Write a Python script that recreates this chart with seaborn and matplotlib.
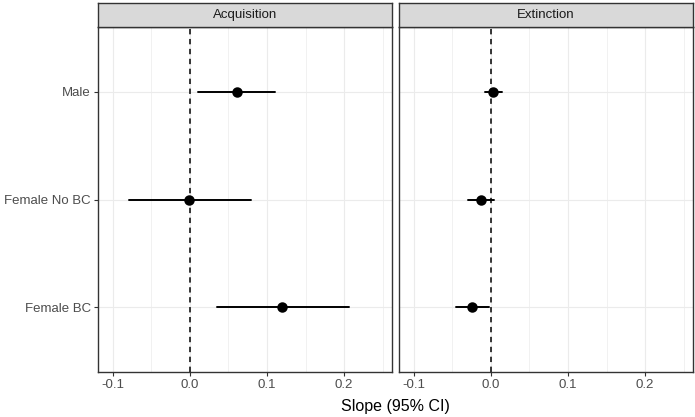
import pandas as pd
import numpy as np
import matplotlib
matplotlib.use('Agg')
import matplotlib.pyplot as plt
import seaborn as sns

# slope estimates with 95% CI
groups = ['Male', 'Female No BC', 'Female BC']
phases = ['Acquisition', 'Extinction']

acq_est = [0.061, -0.001, 0.120]
acq_lo = [0.010, -0.079, 0.035]
acq_hi = [0.111, 0.079, 0.206]

ext_est = [0.003, -0.013, -0.025]
ext_lo = [-0.008, -0.030, -0.045]
ext_hi = [0.014, 0.004, -0.003]

x_ticks = [-0.1, 0.0, 0.1, 0.2]
x_minor = [-0.05, 0.05, 0.15, 0.25]

# long format: lo / est / hi rows -> median gives est, 100% interval gives lo..hi
rows = []
for phase, est, lo, hi in [('Acquisition', acq_est, acq_lo, acq_hi),
                           ('Extinction', ext_est, ext_lo, ext_hi)]:
    for g, e, l, h in zip(groups, est, lo, hi):
        for v in (l, e, h):
            rows.append({'phase': phase, 'group': g, 'slope': v})
df = pd.DataFrame(rows)

sns.set_style('white')
plt.rcParams['font.family'] = ['Liberation Sans', 'DejaVu Sans']

W, H = 695, 417
fig = plt.figure(figsize=(W / 100, H / 100), dpi=100)

panels = [(98, 392), (399, 693)]
top, bottom = 27, 372
strip_top = 3

for phase, (x0, x1) in zip(phases, panels):
    ax = fig.add_axes([x0 / W, 1 - bottom / H, (x1 - x0) / W, (bottom - top) / H])
    ax.set_facecolor('white')
    for xm in x_ticks + x_minor:
        ax.axvline(xm, color='#EBEBEB', lw=0.8 if xm in x_ticks else 0.5, zorder=0)
    for yi in range(len(groups)):
        ax.axhline(yi, color='#EBEBEB', lw=0.8, zorder=0)
    ax.axvline(0, color='black', lw=1.1, ls=(0, (3.5, 3)), zorder=1)

    sub = df[df['phase'] == phase]
    sns.pointplot(data=sub, x='slope', y='group', order=groups,
                  estimator='median', errorbar=('pi', 100),
                  linestyle='none', color='black', markersize=5.5,
                  err_kws={'linewidth': 1.4}, ax=ax, zorder=3)

    ax.set_xlim(-0.119, 0.262)
    ax.set_ylim(2.6, -0.6)
    ax.set_xticks(x_ticks)
    ax.set_xticklabels(['-0.1', '0.0', '0.1', '0.2'], color='#4D4D4D', fontsize=9.5)
    ax.tick_params(axis='both', length=3, width=0.8, color='#333333', direction='out',
                   bottom=True, left=True, pad=2)
    ax.set_yticks(range(len(groups)))
    if phase == 'Acquisition':
        ax.set_yticklabels(groups, color='#4D4D4D', fontsize=9.5)
    else:
        ax.set_yticklabels([])
        ax.tick_params(axis='y', length=0)
    ax.set_xlabel('')
    ax.set_ylabel('')
    for s in ax.spines.values():
        s.set_visible(True)
        s.set_color('#333333')
        s.set_linewidth(1.0)

    # facet strip
    sax = fig.add_axes([x0 / W, 1 - top / H, (x1 - x0) / W, (top - strip_top) / H])
    sax.set_facecolor('#D9D9D9')
    sax.set_xticks([])
    sax.set_yticks([])
    for s in sax.spines.values():
        s.set_visible(True)
        s.set_color('#333333')
        s.set_linewidth(1.0)
    sax.text(0.5, 0.5, phase, ha='center', va='center', fontsize=9.5, color='#1A1A1A',
             transform=sax.transAxes)

fig.text((98 + 693) / 2 / W, 1 - 407 / H, 'Slope (95% CI)', ha='center', va='center',
         fontsize=11.5, color='black')

fig.savefig('out.png', dpi=100)
